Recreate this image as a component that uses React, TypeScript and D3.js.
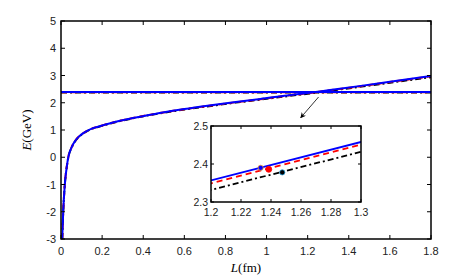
import React from "react";
import * as d3 from "d3";

// L (fm) sample points
const lengths = [0.006, 0.011, 0.019, 0.028, 0.036, 0.052, 0.076, 0.1, 0.125, 0.15, 0.18, 0.24, 0.35, 0.48, 0.6, 0.73, 0.85, 0.97, 1.1, 1.2, 1.3, 1.45, 1.6, 1.8];
const energyBlue = [-3.0, -1.95, -0.96, -0.35, 0.02, 0.37, 0.67, 0.84, 0.96, 1.05, 1.12, 1.25, 1.44, 1.62, 1.77, 1.91, 2.03, 2.14, 2.27, 2.357, 2.458, 2.61, 2.77, 2.98];
const energyRed = [-3.0, -1.95, -0.96, -0.35, 0.02, 0.37, 0.67, 0.84, 0.96, 1.05, 1.12, 1.25, 1.44, 1.62, 1.765, 1.9, 2.02, 2.13, 2.26, 2.349, 2.451, 2.6, 2.76, 2.97];
const energyBlack = [-3.0, -1.96, -0.97, -0.36, 0.01, 0.36, 0.66, 0.83, 0.95, 1.04, 1.11, 1.24, 1.43, 1.61, 1.75, 1.885, 2.005, 2.115, 2.24, 2.332, 2.432, 2.58, 2.735, 2.94];

// horizontal levels and crossing points
const levelBlack = 2.378;
const levelRed = 2.387;
const levelBlue = 2.39;
const crossings = [
  { L: 1.2475, E: 2.378, fill: "#000000", stroke: "#1f9bd7", r: 2.6 },
  { L: 1.2385, E: 2.386, fill: "#ff0000", stroke: "#ff0000", r: 3 },
  { L: 1.2331, E: 2.39, fill: "#0000ff", stroke: "#f0a030", r: 2.6 },
];

const xTicks = [0, 0.2, 0.4, 0.6, 0.8, 1, 1.2, 1.4, 1.6, 1.8];
const yTicks = [-3, -2, -1, 0, 1, 2, 3, 4, 5];
const insetXTicks = [1.2, 1.22, 1.24, 1.26, 1.28, 1.3];
const insetYTicks = [2.3, 2.4, 2.5];

const W = 463;
const H = 280;
const main = { left: 61, right: 431, top: 21, bottom: 239 };
const inset = { left: 211, right: 361, top: 126, bottom: 202 };
const font = "'Liberation Sans', Arial, sans-serif";
const serif = "'Liberation Serif', 'Times New Roman', serif";

const series = [
  { E: energyBlack, level: levelBlack, color: "#000000", dash: "6,3,2,3" },
  { E: energyRed, level: levelRed, color: "#ff0000", dash: "6,4" },
  { E: energyBlue, level: levelBlue, color: "#0000ff", dash: null },
];

export default function App() {
  const x = d3.scaleLinear().domain([0, 1.8]).range([main.left, main.right]);
  const y = d3.scaleLinear().domain([-3, 5]).range([main.bottom, main.top]);
  const ix = d3.scaleLinear().domain([1.2, 1.3]).range([inset.left, inset.right]);
  const iy = d3.scaleLinear().domain([2.3, 2.5]).range([inset.bottom, inset.top]);

  const mainLine = (E: number[]) =>
    d3
      .line<number>()
      .x((_, i) => x(lengths[i]))
      .y((d) => y(d))
      .curve(d3.curveMonotoneX)(E) || "";
  const insetLine = (E: number[]) =>
    d3
      .line<number>()
      .x((_, i) => ix(lengths[i]))
      .y((d) => iy(d))(E) || "";

  const tick = 4;
  const arrowStart = { L: 1.253, E: 2.21 };
  const arrowEnd = { L: 1.166, E: 1.45 };

  return (
    <svg
      width={W}
      height={H}
      style={{ position: "absolute", left: 0, top: 0, background: "#fff" }}
    >
      <defs>
        <clipPath id="mainClip">
          <rect x={main.left} y={main.top} width={main.right - main.left} height={main.bottom - main.top} />
        </clipPath>
        <clipPath id="insetClip">
          <rect x={inset.left} y={inset.top} width={inset.right - inset.left} height={inset.bottom - inset.top} />
        </clipPath>
        <marker id="arrowHead" viewBox="0 0 10 10" refX="9" refY="5" markerWidth="7" markerHeight="7" orient="auto">
          <path d="M0,0 L10,5 L0,10 L3,5 Z" fill="#000" />
        </marker>
      </defs>

      {/* main plot */}
      <g clipPath="url(#mainClip)">
        {series.map((s, k) => (
          <g key={k}>
            <line
              x1={main.left}
              x2={main.right}
              y1={y(s.level)}
              y2={y(s.level)}
              stroke={s.color}
              strokeWidth={2}
              strokeDasharray={s.dash || undefined}
            />
            <path d={mainLine(s.E)} fill="none" stroke={s.color} strokeWidth={2} strokeDasharray={s.dash || undefined} />
          </g>
        ))}
      </g>

      {/* main axes */}
      <rect
        x={main.left}
        y={main.top}
        width={main.right - main.left}
        height={main.bottom - main.top}
        fill="none"
        stroke="#000"
        strokeWidth={1.5}
      />
      {xTicks.map((t) => (
        <g key={"x" + t}>
          <line x1={x(t)} x2={x(t)} y1={main.bottom} y2={main.bottom - tick} stroke="#000" />
          <line x1={x(t)} x2={x(t)} y1={main.top} y2={main.top + tick} stroke="#000" />
          <text x={x(t)} y={main.bottom + 16} fontSize={11} fontFamily={font} textAnchor="middle" fill="#222">
            {t}
          </text>
        </g>
      ))}
      {yTicks.map((t) => (
        <g key={"y" + t}>
          <line x1={main.left} x2={main.left + tick} y1={y(t)} y2={y(t)} stroke="#000" />
          <line x1={main.right} x2={main.right - tick} y1={y(t)} y2={y(t)} stroke="#000" />
          <text x={main.left - 5} y={y(t) + 4} fontSize={11} fontFamily={font} textAnchor="end" fill="#222">
            {t}
          </text>
        </g>
      ))}
      <text x={(main.left + main.right) / 2} y={272} fontSize={13} fontFamily={serif} textAnchor="middle">
        <tspan fontStyle="italic">L</tspan>(fm)
      </text>
      <text
        transform={`translate(31,${(main.top + main.bottom) / 2}) rotate(-90)`}
        fontSize={13}
        fontFamily={serif}
        textAnchor="middle"
      >
        <tspan fontStyle="italic">E</tspan>(GeV)
      </text>

      {/* arrow */}
      <line
        x1={x(arrowStart.L)}
        y1={y(arrowStart.E)}
        x2={x(arrowEnd.L)}
        y2={y(arrowEnd.E)}
        stroke="#000"
        strokeWidth={0.8}
        markerEnd="url(#arrowHead)"
      />

      {/* inset */}
      <rect
        x={inset.left}
        y={inset.top}
        width={inset.right - inset.left}
        height={inset.bottom - inset.top}
        fill="#fff"
      />
      <g clipPath="url(#insetClip)">
        {series.map((s, k) => (
          <path
            key={k}
            d={insetLine(s.E)}
            fill="none"
            stroke={s.color}
            strokeWidth={1.8}
            strokeDasharray={s.dash || undefined}
          />
        ))}
        {crossings.map((c, k) => (
          <circle key={k} cx={ix(c.L)} cy={iy(c.E)} r={c.r} fill={c.fill} stroke={c.stroke} strokeWidth={0.8} />
        ))}
      </g>
      <rect
        x={inset.left}
        y={inset.top}
        width={inset.right - inset.left}
        height={inset.bottom - inset.top}
        fill="none"
        stroke="#000"
        strokeWidth={1.5}
      />
      {insetXTicks.map((t) => (
        <g key={"ix" + t}>
          <line x1={ix(t)} x2={ix(t)} y1={inset.bottom} y2={inset.bottom - 3} stroke="#000" />
          <line x1={ix(t)} x2={ix(t)} y1={inset.top} y2={inset.top + 3} stroke="#000" />
          <text x={ix(t)} y={inset.bottom + 14} fontSize={10.5} fontFamily={font} textAnchor="middle" fill="#222">
            {t}
          </text>
        </g>
      ))}
      {insetYTicks.map((t) => (
        <g key={"iy" + t}>
          <line x1={inset.left} x2={inset.left + 3} y1={iy(t)} y2={iy(t)} stroke="#000" />
          <line x1={inset.right} x2={inset.right - 3} y1={iy(t)} y2={iy(t)} stroke="#000" />
          <text x={inset.left - 3} y={iy(t) + 4} fontSize={10.5} fontFamily={font} textAnchor="end" fill="#222">
            {t.toFixed(1)}
          </text>
        </g>
      ))}
    </svg>
  );
}
